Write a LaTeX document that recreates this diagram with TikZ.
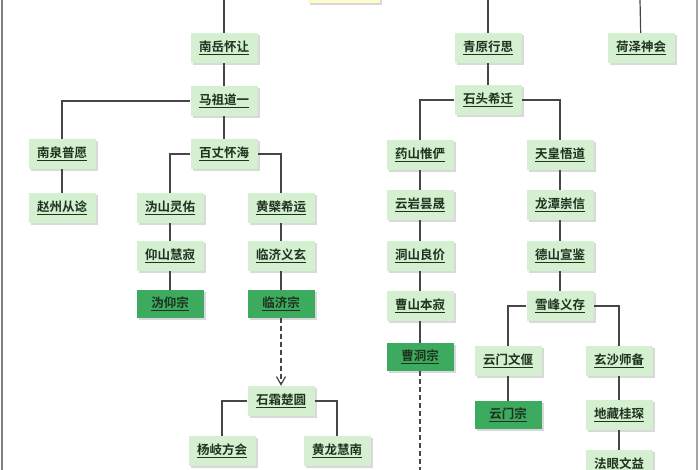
\documentclass[tikz,border=0pt]{standalone}
\usepackage{fontspec}
\newfontfamily\cjk{Noto Sans CJK SC}[BoldFont={Noto Sans CJK SC Bold}]
\usetikzlibrary{shadows,arrows.meta}
\definecolor{boxfill}{RGB}{212,240,208}
\definecolor{darkfill}{RGB}{60,170,95}
\definecolor{txt}{RGB}{30,50,30}
\definecolor{linec}{RGB}{70,70,70}
\tikzset{
 person/.style={draw=none,fill=boxfill,minimum width=67pt,minimum height=30pt,inner sep=0pt,
   font=\cjk\bfseries\fontsize{12.5}{12.5}\selectfont,text=txt,
   drop shadow={shadow xshift=2pt,shadow yshift=-2pt,fill=black!25,opacity=0.6}},
 school/.style={person,fill=darkfill,minimum height=28pt},
 link/.style={draw=linec,line width=1.2pt},
 dlink/.style={link,dashed,dash pattern=on 5pt off 3pt}
}
\newcommand{\ul}[1]{\underline{#1}}
\begin{document}
\begin{tikzpicture}[x=1pt,y=-1pt]
\useasboundingbox (0,0) rectangle (700,470);
\clip (0,0) rectangle (700,470);
\draw[gray,line width=1.5pt] (2,0) -- (2,470);
\draw[gray!70,line width=1.5pt] (697,0) -- (697,470);
\node[person,fill=yellow!20,minimum width=72pt] (top) at (344,-12) {};
\coordinate (t1) at (224,0);
\coordinate (t2) at (488,0);
\coordinate (t3) at (640,0);
% left lineage
\node[person] (nyhr) at (224,48) {\ul{南岳怀让}};
\node[person] (mzdy) at (224,101) {\ul{马祖道一}};
\node[person] (nqpy) at (62,154) {\ul{南泉普愿}};
\node[person] (zzcs) at (62,208) {\ul{赵州从谂}};
\node[person] (bzhh) at (224,154) {\ul{百丈怀海}};
\node[person] (gsly) at (170,208) {\ul{沩山灵佑}};
\node[person] (hbxy) at (281,208) {\ul{黄檗希运}};
\node[person] (yshj) at (170,256) {\ul{仰山慧寂}};
\node[person] (ljyx) at (281,256) {\ul{临济义玄}};
\node[school] (gyz) at (170,304) {\ul{沩仰宗}};
\node[school] (ljz) at (281,304) {\ul{临济宗}};
\node[person] (sscy) at (281,401) {\ul{石霜楚圆}};
\node[person] (yqfh) at (222,451) {\ul{杨岐方会}};
\node[person] (hlhn) at (337,451) {\ul{黄龙慧南}};
% right lineage
\node[person] (qyxs) at (488,48) {\ul{青原行思}};
\node[person] (hzsh) at (641,48) {\ul{荷泽神会}};
\node[person] (stxq) at (488,100) {\ul{石头希迁}};
\node[person] (yswy) at (420,155) {\ul{药山惟俨}};
\node[person] (thwd) at (560,155) {\ul{天皇悟道}};
\node[person] (yyts) at (420,205) {\ul{云岩昙晟}};
\node[person] (ltcx) at (560,205) {\ul{龙潭崇信}};
\node[person] (dslj) at (420,256) {\ul{洞山良价}};
\node[person] (dsxj) at (560,256) {\ul{德山宣鉴}};
\node[person] (csbj) at (420,306) {\ul{曹山本寂}};
\node[person] (xfyc) at (560,306) {\ul{雪峰义存}};
\node[school] (cdz) at (420,357) {\ul{曹洞宗}};
\node[person] (ymwy) at (508,361) {\ul{云门文偃}};
\node[person] (xssb) at (619,361) {\ul{玄沙师备}};
\node[school] (ymz) at (508,415) {\ul{云门宗}};
\node[person] (dzgc) at (619,415) {\ul{地藏桂琛}};
\node[person] (fywy) at (619,465) {\ul{法眼文益}};
\coordinate (cdend) at (420,475);
% connectors
\draw[link] (t1) -- (nyhr);
\draw[link] (t2) -- (qyxs);
\draw[link] (t3) -- (hzsh);
\draw[link] (nyhr) -- (mzdy);
\draw[link] (mzdy.west) -| (nqpy);
\draw[link] (nqpy) -- (zzcs);
\draw[link] (mzdy) -- (bzhh);
\draw[link] (bzhh.west) -| (gsly);
\draw[link] (bzhh.east) -| (hbxy);
\draw[link] (gsly) -- (yshj);
\draw[link] (yshj) -- (gyz);
\draw[link] (hbxy) -- (ljyx);
\draw[link] (ljyx) -- (ljz);
\draw[dlink,-{Straight Barb[length=8pt,width=9pt]}] (ljz) -- (sscy);
\draw[link] (sscy.west) -| (yqfh);
\draw[link] (sscy.east) -| (hlhn);
\draw[link] (qyxs) -- (stxq);
\draw[link] (stxq.west) -| (yswy);
\draw[link] (stxq.east) -| (thwd);
\draw[link] (yswy) -- (yyts);
\draw[link] (yyts) -- (dslj);
\draw[link] (dslj) -- (csbj);
\draw[link] (csbj) -- (cdz);
\draw[dlink] (cdz) -- (cdend);
\draw[link] (thwd) -- (ltcx);
\draw[link] (ltcx) -- (dsxj);
\draw[link] (dsxj) -- (xfyc);
\draw[link] (xfyc.west) -| (ymwy);
\draw[link] (xfyc.east) -| (xssb);
\draw[link] (ymwy) -- (ymz);
\draw[link] (xssb) -- (dzgc);
\draw[link] (dzgc) -- (fywy);
\end{tikzpicture}
\end{document}
